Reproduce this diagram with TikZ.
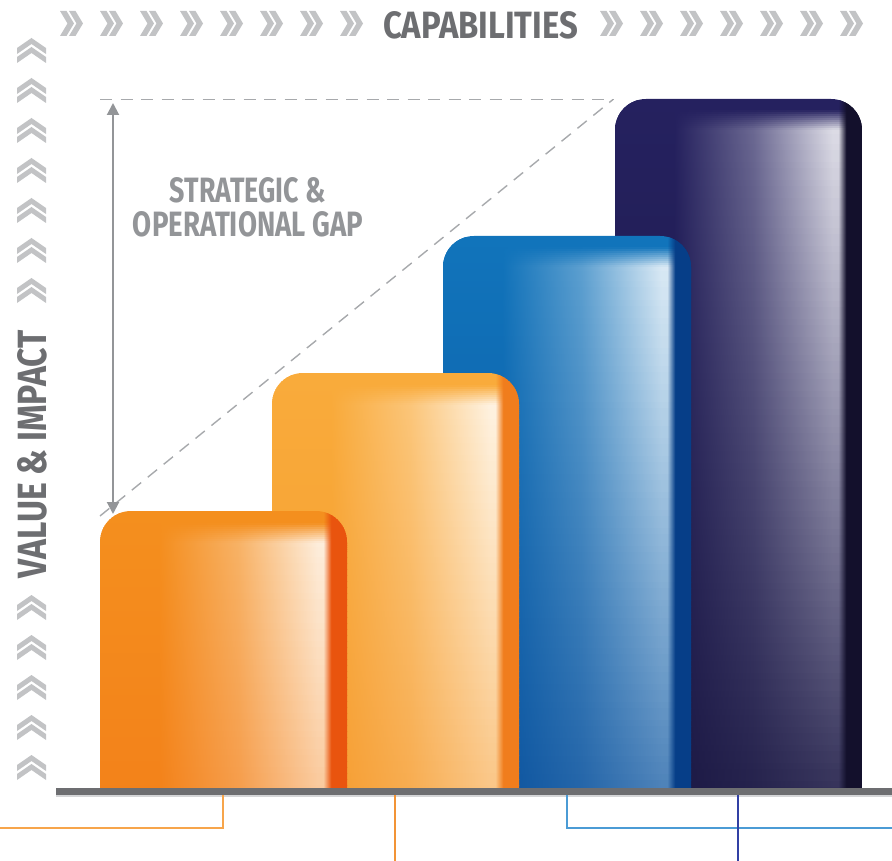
\documentclass[tikz,border=0pt]{standalone}
\usepackage{fontspec}
\usepackage{graphicx}
\usetikzlibrary{arrows.meta}
\newfontfamily\labelfont{Fira Sans}[FakeStretch=0.82]

\definecolor{inkgray}{HTML}{6D6E71}
\definecolor{softgray}{HTML}{939598}
\definecolor{chevgray}{HTML}{C2C3C5}
\definecolor{dashgray}{HTML}{A7A9AC}
\definecolor{shadowgray}{HTML}{D4D5D7}

\definecolor{navyTop}{HTML}{25215F}
\definecolor{navyBot}{HTML}{1B1844}
\definecolor{navyRim}{HTML}{13102C}
\definecolor{blueTop}{HTML}{1174BB}
\definecolor{blueBot}{HTML}{0C549F}
\definecolor{blueRim}{HTML}{063E88}
\definecolor{amberTop}{HTML}{F9AB3B}
\definecolor{amberBot}{HTML}{F69D30}
\definecolor{amberRim}{HTML}{F07D1D}
\definecolor{orangeTop}{HTML}{F48F1E}
\definecolor{orangeBot}{HTML}{F3821A}
\definecolor{orangeRim}{HTML}{E9540E}

\definecolor{leadOrange}{HTML}{F7A54B}
\definecolor{leadAmber}{HTML}{F29436}
\definecolor{leadSky}{HTML}{4B9BD5}
\definecolor{leadIndigo}{HTML}{3140A4}

\colorlet{hlbase}{black}
\colorlet{hlmid}{black}
\colorlet{hllight}{black}
\colorlet{hldark}{black}

% glossy column profile: flat base, rising sheen, dark rim on the right
\pgfdeclarehorizontalshading[hlbase,hlmid,hllight,hldark]{barglow}{100bp}{%
  color(0bp)=(hlbase); color(37bp)=(hlbase); color(53bp)=(hlmid);
  color(69bp)=(hllight); color(70.2bp)=(hllight); color(71.8bp)=(hldark);
  color(100bp)=(hldark)}

% one horizontal slice of a column
% #1 left, #2 right, #3 top, #4 height, #5 depth, #6 slice height,
% #7 colour at top, #8 colour at bottom, #9 rim colour
\newcommand\glossstrip[9]{%
  \pgfmathtruncatemacro\blend{min(100,(#5)/(#4)*100)}%
  \pgfmathtruncatemacro\glow{max(6,88-0.11*(#5+#6/2))*min(1,max(0,(#5+#6/2-12)/20))}%
  \colorlet{hlbase}{#8!\blend!#7}%
  \colorlet{hllight}{white!\glow!hlbase}%
  \colorlet{hlmid}{hllight!38!hlbase}%
  \colorlet{hldark}{#9}%
  \shade[shading=barglow] (#1,#3+#5) rectangle (#2,#3+#5+#6+0.7);}

% a whole column with rounded top corners
\newcommand\glossbar[7]{%
  \begin{scope}
    \clip (#1,#3) rectangle (#2,#4);
    \clip[rounded corners=31pt] (#1,#3) rectangle (#2,#4+60);
    \pgfmathsetmacro\barH{#4-#3}
    \foreach \dd in {0,2,...,38}{\glossstrip{#1}{#2}{#3}{\barH}{\dd}{2}{#5}{#6}{#7}}
    \foreach \dd in {40,46,...,\barH}{\glossstrip{#1}{#2}{#3}{\barH}{\dd}{6}{#5}{#6}{#7}}
  \end{scope}}

\tikzset{
  rchev/.pic={
    \fill[chevgray] (0,-12.5) -- (6.5,-12.5) -- (14,0) -- (6.5,12.5) -- (0,12.5) -- (7.5,0) -- cycle;
    \fill[chevgray] (9,-12.5) -- (15.5,-12.5) -- (23,0) -- (15.5,12.5) -- (9,12.5) -- (16.5,0) -- cycle;
  },
  uchev/.pic={
    \fill[chevgray] (-14.5,10) -- (0,0) -- (14.5,10) -- (14.5,16) -- (0,6) -- (-14.5,16) -- cycle;
    \fill[chevgray] (-14.5,19) -- (0,9) -- (14.5,19) -- (14.5,25) -- (0,15) -- (-14.5,25) -- cycle;
  },
  axislabel/.style={inner sep=0pt, text=inkgray, font=\labelfont\bfseries},
  gaplabel/.style={inner sep=0pt, text=softgray, font=\labelfont\bfseries},
  guide/.style={dashgray, line width=1.4pt, dash pattern=on 12pt off 8.5pt},
  gaparrow/.style={softgray, line width=2pt,
    {Triangle[width=12pt,length=12pt]}-{Triangle[width=12pt,length=12pt]}},
  lead/.style={line width=1.5pt},
}

\begin{document}
\begin{tikzpicture}[x=1pt,y=-1pt]
\useasboundingbox (0,0) rectangle (892,861);

% chevron rows
\foreach \cx in {60,100,...,340} {\pic at (\cx,23.5) {rchev};}
\foreach \cx in {600,640,...,840} {\pic at (\cx,23.5) {rchev};}
\foreach \cy in {38,78,...,278} {\pic at (31.5,\cy) {uchev};}
\foreach \cy in {595,635,...,755} {\pic at (31.5,\cy) {uchev};}

% axis titles
\node[axislabel] (capabilities) at (480.5,25.5) {\resizebox{195pt}{27pt}{CAPABILITIES}};
\node[axislabel, rotate=90] (value) at (32.5,454) {\resizebox{248pt}{29pt}{VALUE \& IMPACT}};

% gap guides
\coordinate (dashL) at (100,99.5);
\coordinate (dashR) at (613,99.5);
\coordinate (diagLow) at (100,516);
\draw[guide] (dashL) -- (dashR);
\draw[guide] (diagLow) -- (dashR);
\coordinate (gapTop) at (113,103);
\coordinate (gapBot) at (113,514);
\draw[gaparrow] (gapTop) -- (gapBot);
\node[gaplabel] (gapA) at (248,190) {\resizebox{156pt}{25pt}{STRATEGIC \&}};
\node[gaplabel] (gapB) at (248,224) {\resizebox{230pt}{25pt}{OPERATIONAL GAP}};

% columns, back to front
\glossbar{615}{862}{99}{789}{navyTop}{navyBot}{navyRim}
\glossbar{443}{691}{236}{789}{blueTop}{blueBot}{blueRim}
\glossbar{272}{519}{373}{789}{amberTop}{amberBot}{amberRim}
\glossbar{100}{347}{511}{789}{orangeTop}{orangeBot}{orangeRim}

% ground line
\fill[shadowgray] (56,794.5) rectangle (892,796.5);
\fill[inkgray] (56,788) rectangle (892,795);

% leads below the ground line
\coordinate (leadAtop) at (223,795);
\coordinate (leadAcorner) at (223,828);
\coordinate (leadAend) at (0,828);
\coordinate (leadBtop) at (395,795);
\coordinate (leadBend) at (395,861);
\coordinate (leadCtop) at (567,795);
\coordinate (leadCcorner) at (567,828);
\coordinate (leadCend) at (892,828);
\coordinate (leadDtop) at (738,795);
\coordinate (leadDend) at (738,861);
\draw[lead, leadOrange] (leadAtop) -- (leadAcorner) -- (leadAend);
\draw[lead, leadAmber] (leadBtop) -- (leadBend);
\draw[lead, leadSky] (leadCtop) -- (leadCcorner) -- (leadCend);
\draw[lead, leadIndigo] (leadDtop) -- (leadDend);
\end{tikzpicture}
\end{document}
